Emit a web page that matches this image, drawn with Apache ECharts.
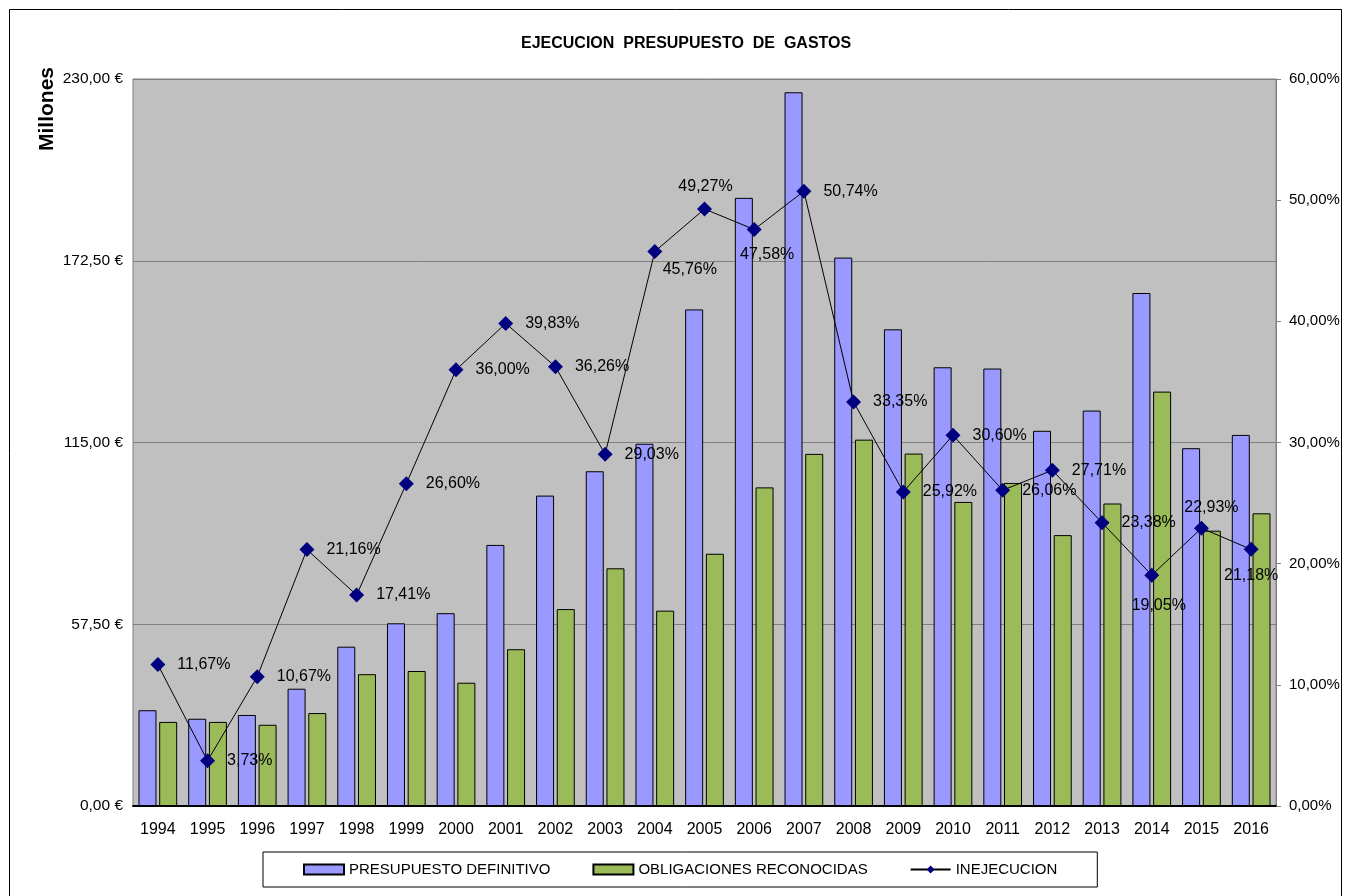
<!DOCTYPE html>
<html>
<head>
<meta charset="utf-8">
<script src="https://cdn.jsdelivr.net/npm/echarts@6/dist/echarts.min.js"></script>
<style>html,body{margin:0;padding:0;background:#fff}#c{width:1345px;height:896px}</style>
</head>
<body>
<div id="c"></div>
<script>
const years = ['1994','1995','1996','1997','1998','1999','2000','2001','2002','2003','2004','2005','2006','2007','2008','2009','2010','2011','2012','2013','2014','2015','2016'];
const presupuesto = [30.3, 27.6, 28.8, 37.1, 50.4, 57.8, 61.0, 82.6, 98.2, 105.9, 114.6, 157.1, 192.4, 225.8, 173.5, 150.8, 138.8, 138.4, 118.7, 125.1, 162.3, 113.2, 117.4];
const obligaciones = [26.6, 26.6, 25.7, 29.4, 41.7, 42.7, 39.0, 49.6, 62.3, 75.2, 61.8, 79.8, 100.8, 111.4, 115.9, 111.5, 96.2, 102.2, 85.7, 95.7, 131.1, 87.1, 92.6];
const inejecucion = [11.67, 3.73, 10.67, 21.16, 17.41, 26.60, 36.00, 39.83, 36.26, 29.03, 45.76, 49.27, 47.58, 50.74, 33.35, 25.92, 30.60, 26.06, 27.71, 23.38, 19.05, 22.93, 21.18];
const leftTicks = {min: 0, max: 230, interval: 57.5};
const rightTicks = {min: 0, max: 60, interval: 10};

const FONT = '"Liberation Sans", Arial, sans-serif';
const labelOverrides = {
  '2004': {position: 'bottom', distance: 3, offset: [35, 0]},
  '2005': {position: 'top', distance: 7, offset: [1, 0]},
  '2006': {position: 'bottom', distance: 10, offset: [13, 0]},
  '2014': {position: 'bottom', distance: 15, offset: [7, 0]},
  '2015': {position: 'top', distance: 5, offset: [10, 0]},
  '2016': {position: 'bottom', distance: 11, offset: [0, 0]}
};
const fmtNum = v => v.toFixed(2).replace('.', ',');
const lineData = inejecucion.map((v, i) => {
  const o = labelOverrides[years[i]];
  return o ? {value: v, label: o} : {value: v};
});

const chart = echarts.init(document.getElementById('c'), null, {renderer: 'canvas'});
chart.setOption({
  animation: false,
  backgroundColor: '#fff',
  textStyle: {fontFamily: FONT},
  title: {
    text: 'EJECUCION  PRESUPUESTO  DE  GASTOS',
    left: 516, top: 31,
    textStyle: {fontFamily: FONT, fontSize: 16, fontWeight: 'bold', color: '#000'}
  },
  graphic: [
    {type: 'rect', shape: {x: 9.5, y: 9.5, width: 1332, height: 895}, style: {fill: 'none', stroke: '#000', lineWidth: 1}, silent: true, z: -1},
    {type: 'text', x: 47, y: 109, rotation: Math.PI / 2,
     style: {text: 'Millones', x: 0, y: 0, textAlign: 'center', textVerticalAlign: 'middle', font: 'bold 21px ' + FONT, fill: '#000'}}
  ],
  legend: {
    left: 263, top: 852,
    padding: [10, 40, 10, 40],
    itemWidth: 40, itemHeight: 10, itemGap: 42,
    borderColor: '#000', borderWidth: 1,
    textStyle: {fontFamily: FONT, fontSize: 15, color: '#000'},
    data: [
      {name: 'PRESUPUESTO DEFINITIVO', icon: 'rect'},
      {name: 'OBLIGACIONES RECONOCIDAS', icon: 'rect'},
      {name: 'INEJECUCION'}
    ]
  },
  grid: {
    left: 133, right: 69, top: 79, bottom: 90,
    show: true, backgroundColor: '#C0C0C0', borderColor: '#808080', borderWidth: 1
  },
  xAxis: {
    type: 'category', data: years, boundaryGap: true,
    axisLine: {lineStyle: {color: '#000', width: 2}},
    axisTick: {show: false},
    axisLabel: {color: '#000', fontSize: 16, fontFamily: FONT, margin: 16}
  },
  yAxis: [
    {
      type: 'value', min: leftTicks.min, max: leftTicks.max, interval: leftTicks.interval,
      axisLine: {show: false}, axisTick: {show: false},
      splitLine: {lineStyle: {color: '#808080', width: 1}},
      axisLabel: {color: '#000', fontSize: 15.5, fontFamily: FONT, margin: 10, formatter: v => fmtNum(v) + ' €'}
    },
    {
      type: 'value', min: rightTicks.min, max: rightTicks.max, interval: rightTicks.interval,
      position: 'right',
      axisLine: {show: true, lineStyle: {color: '#808080'}},
      axisTick: {show: true, length: 5, lineStyle: {color: '#808080'}},
      splitLine: {show: false},
      axisLabel: {color: '#000', fontSize: 15, fontFamily: FONT, margin: 13, formatter: v => fmtNum(v) + '%'}
    }
  ],
  series: [
    {
      name: 'PRESUPUESTO DEFINITIVO', type: 'bar', data: presupuesto,
      barWidth: 18, barGap: '15%',
      itemStyle: {color: '#9999FF', borderColor: '#000', borderWidth: 1}
    },
    {
      name: 'OBLIGACIONES RECONOCIDAS', type: 'bar', data: obligaciones,
      barWidth: 18, barGap: '15%',
      itemStyle: {color: '#9BBB59', borderColor: '#000', borderWidth: 1}
    },
    {
      name: 'INEJECUCION', type: 'line', yAxisIndex: 1, data: lineData,
      symbol: 'diamond', symbolSize: 15,
      lineStyle: {color: '#000', width: 1},
      itemStyle: {color: '#000080'},
      label: {
        show: true, position: 'right', distance: 12,
        color: '#000', fontSize: 16, fontFamily: FONT,
        formatter: p => fmtNum(p.value) + '%'
      },
      z: 5
    }
  ]
});
</script>
</body>
</html>
